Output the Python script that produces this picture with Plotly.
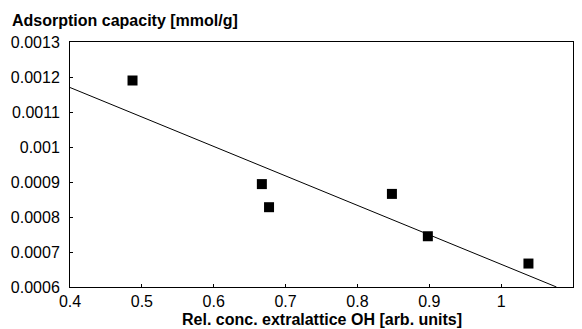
import plotly.graph_objects as go

# data
conc_oh = [0.487, 0.667, 0.677, 0.848, 0.898, 1.038]
adsorption = [0.00119, 0.000894, 0.000828, 0.000866, 0.000745, 0.000667]
fit_x = [0.4, 1.077]
fit_y = [0.00117, 0.0006]
x_ticks = [0.4, 0.5, 0.6, 0.7, 0.8, 0.9, 1.0, 1.1]
x_tick_labels = ["0.4", "0.5", "0.6", "0.7", "0.8", "0.9", "1", "1.1"]
y_ticks = [0.0006, 0.0007, 0.0008, 0.0009, 0.001, 0.0011, 0.0012, 0.0013]
y_tick_labels = ["0.0006", "0.0007", "0.0008", "0.0009", "0.001", "0.0011", "0.0012", "0.0013"]

font = "Liberation Sans, Arial, sans-serif"

fig = go.Figure()
fig.add_trace(go.Scatter(x=fit_x, y=fit_y, mode="lines",
                         line=dict(color="black", width=1), showlegend=False))
fig.add_trace(go.Scatter(x=conc_oh, y=adsorption, mode="markers",
                         marker=dict(symbol="square", size=10, color="black"),
                         showlegend=False))

fig.update_layout(
    width=582, height=329,
    margin=dict(l=70, r=9, t=42, b=42),
    paper_bgcolor="white", plot_bgcolor="white",
    font=dict(family=font, size=16, color="black"),
    xaxis=dict(range=[0.4, 1.1], tickvals=x_ticks, ticktext=x_tick_labels,
               showgrid=False, zeroline=False, showline=True, mirror=True,
               linecolor="black", linewidth=1, ticks="inside", ticklen=3,
               tickcolor="black", ticklabelstandoff=0,
               tickfont=dict(family=font, size=16)),
    yaxis=dict(range=[0.0006, 0.0013], tickvals=y_ticks, ticktext=y_tick_labels,
               showgrid=False, zeroline=False, showline=True, mirror=True,
               linecolor="black", linewidth=1, ticks="inside", ticklen=3,
               tickcolor="black", ticklabelstandoff=6,
               tickfont=dict(family=font, size=16)),
    annotations=[
        dict(text="<b>Adsorption capacity [mmol/g]</b>", xref="paper", yref="paper",
             x=-0.119, y=1.0, xanchor="left", yanchor="middle", yshift=22,
             showarrow=False, font=dict(family=font, size=16)),
        dict(text="<b>Rel. conc. extralattice OH [arb. units]</b>", xref="paper", yref="paper",
             x=0.5, y=0, xanchor="center", yanchor="middle", yshift=-32,
             showarrow=False, font=dict(family=font, size=16)),
    ],
)

fig.write_html("out.html")
